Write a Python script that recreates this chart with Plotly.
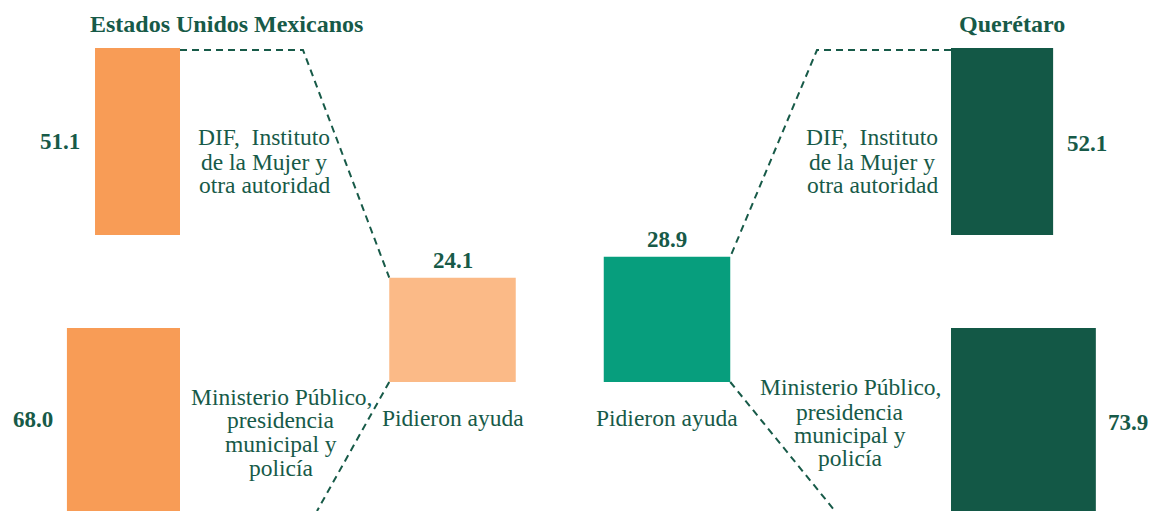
import plotly.graph_objects as go

# data
groups = ["Estados Unidos Mexicanos", "Querétaro"]
dif_vals = [51.1, 52.1]          # DIF, Instituto de la Mujer y otra autoridad
mp_vals = [68.0, 73.9]           # Ministerio Público, presidencia municipal y policía
ayuda_vals = [24.1, 28.9]        # Pidieron ayuda
dif_label = ["DIF,  Instituto", "de la Mujer y", "otra autoridad"]
mp_label = ["Ministerio Público,", "presidencia", "municipal y", "policía"]
ayuda_label = "Pidieron ayuda"

W, H = 1150, 511
TXT = "#175a48"
side_colors = ["#f89c56", "#135846"]
mid_colors = ["#fbba87", "#079e7d"]
FONT = "Liberation Serif"


def up(ypx):
    # pixel row (from top) -> axis value (from bottom)
    return H - ypx


# side bars: length ~ value, anchored at an inner edge
side_scale = [1.663, 1.96]
side_anchor = [180, 951]      # left panel grows to the left, right to the right
side_dir = [-1, 1]
top_rows = (48, 235)
bot_rows = (328, 522)

# middle bars: height ~ value
mid_scale = 4.33
mid_center = [452.5, 667]
mid_width = 126.5
mid_base = up(382)

fig = go.Figure()

for i in range(2):
    for val, rows in ((dif_vals[i], top_rows), (mp_vals[i], bot_rows)):
        length = val * side_scale[i]
        base = side_anchor[i] if side_dir[i] > 0 else side_anchor[i] - length
        fig.add_trace(go.Bar(
            orientation="h", x=[length], base=[base],
            y=[up((rows[0] + rows[1]) / 2)], width=[rows[1] - rows[0]],
            marker=dict(color=side_colors[i], line=dict(width=0)),
            hoverinfo="skip", showlegend=False,
        ))

fig.add_trace(go.Bar(
    x=mid_center, y=[v * mid_scale for v in ayuda_vals], base=[mid_base] * 2,
    width=[mid_width] * 2, marker=dict(color=mid_colors, line=dict(width=0)),
    xaxis="x2", yaxis="y2", hoverinfo="skip", showlegend=False,
))

# dashed connectors from side bars to the middle bars
line_style = dict(color=TXT, width=2, dash="7px,5px")
elbow_x = [303, 817]
end_x = [317, 835]
for i in range(2):
    mid_top = mid_base + ayuda_vals[i] * mid_scale
    inner = mid_center[i] - mid_width / 2 if i == 0 else mid_center[i] + mid_width / 2
    ytop = up(top_rows[0] + 2)
    fig.add_trace(go.Scatter(
        x=[side_anchor[i], elbow_x[i], inner], y=[ytop, ytop, mid_top],
        mode="lines", line=line_style, hoverinfo="skip", showlegend=False,
    ))
    fig.add_trace(go.Scatter(
        x=[inner, end_x[i]], y=[mid_base, 0],
        mode="lines", line=line_style, hoverinfo="skip", showlegend=False,
    ))

ann = []


def text(x, ypx, s, size=23.5, bold=False, xanchor="center"):
    ann.append(dict(
        x=x, y=up(ypx), xref="x", yref="y", text=f"<b>{s}</b>" if bold else s,
        showarrow=False, xanchor=xanchor, yanchor="middle",
        font=dict(family=FONT, size=size, color=TXT),
    ))


# titles
text(226, 24, groups[0], size=24, bold=True)
text(1012, 24, groups[1], size=24, bold=True)

# side values
text(59.5, 141, f"{dif_vals[0]:.1f}", size=23, bold=True)
text(33, 419, f"{mp_vals[0]:.1f}", size=23, bold=True)
text(1087, 143, f"{dif_vals[1]:.1f}", size=23, bold=True)
text(1106, 422, f"{mp_vals[1]:.1f}", size=23, bold=True, xanchor="left")

# middle values above bars
for i in range(2):
    top_px = H - (mid_base + ayuda_vals[i] * mid_scale)
    text(mid_center[i], top_px - 17, f"{ayuda_vals[i]:.1f}", size=23, bold=True)
    text(mid_center[i], 418, ayuda_label)

# category labels, one annotation per line for tight leading
for cx, rows in ((264, [137, 162, 185]), (872, [137, 162, 185])):
    for s, r in zip(dif_label, rows):
        text(cx, r, s)
for cx, rows in ((281, [397, 420, 444, 468]), (850, [387, 412, 435, 458])):
    for s, r in zip(mp_label, rows):
        text(cx, r, s)

axis = dict(range=[0, W], visible=False, fixedrange=True)
yax = dict(range=[0, H], visible=False, fixedrange=True)
fig.update_layout(
    width=W, height=H, margin=dict(l=0, r=0, t=0, b=0),
    paper_bgcolor="white", plot_bgcolor="white", barmode="overlay",
    xaxis=axis, yaxis=yax,
    xaxis2=dict(axis, overlaying="x"), yaxis2=dict(yax, overlaying="y"),
    annotations=ann,
)

# drop the default page margin so the figure sits at the window corner
fig.write_html(
    "out.html",
    config={"displayModeBar": False},
    post_script="document.body.style.margin='0';document.body.style.overflow='hidden';",
)
